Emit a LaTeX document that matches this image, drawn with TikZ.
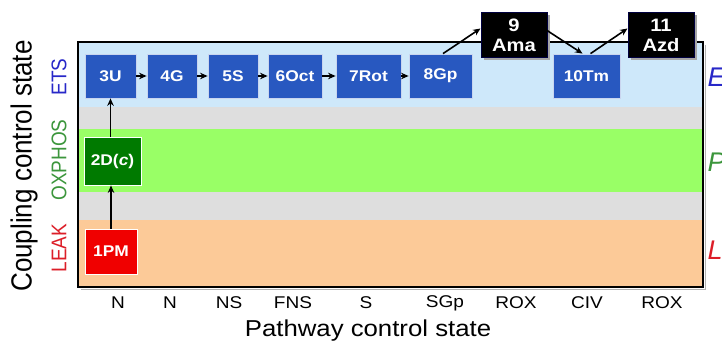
\documentclass[tikz,border=0pt]{standalone}
\usepackage{fontspec}
\usepackage{graphicx}
\setmainfont{Liberation Sans}
\usetikzlibrary{arrows.meta,shadows}
\definecolor{etsband}{RGB}{206,232,250}
\definecolor{dotband}{RGB}{222,222,222}
\definecolor{oxband}{RGB}{153,255,102}
\definecolor{leakband}{RGB}{252,202,152}
\definecolor{boxblue}{RGB}{40,88,192}
\definecolor{boxgreen}{RGB}{0,122,0}
\definecolor{boxred}{RGB}{240,0,0}
\definecolor{etstext}{RGB}{40,40,200}
\definecolor{oxtext}{RGB}{60,150,60}
\definecolor{leaktext}{RGB}{220,30,40}
\newcommand{\hs}[1]{\scalebox{1.12}[1]{#1}}
\newcommand{\vs}[1]{\scalebox{1}[1.12]{#1}}
\begin{document}
\begin{tikzpicture}[x=1pt,y=-1pt,
  statebox/.style={draw=white!75!boxblue, line width=0.8pt, fill=boxblue, text=white,
    font=\bfseries\fontsize{15.5}{17}\selectfont, minimum height=44pt, inner sep=0pt},
  inhbox/.style={draw=blue!25!black, line width=1pt, fill=black, text=white, align=center,
    font=\bfseries\fontsize{18}{22}\selectfont, minimum width=66pt, minimum height=45pt,
    inner sep=0pt, drop shadow={shadow xshift=2.5pt, shadow yshift=-2.5pt, fill=gray!70, opacity=1}},
  conn/.style={-{Stealth[length=7.5pt,width=6.5pt]}, line width=1.6pt, black},
  axlabel/.style={font=\fontsize{17}{19}\selectfont, anchor=center},
  sidelabel/.style={font=\fontsize{19}{21}\selectfont, rotate=90, anchor=center},
  rightlabel/.style={font=\itshape\fontsize{27}{29}\selectfont, anchor=west}]
\useasboundingbox (0,0) rectangle (722,347);
% bands
\fill[etsband] (79,43) rectangle (702,107);
\fill[dotband] (79,107) rectangle (702,129);
\fill[oxband] (79,129) rectangle (702,192);
\fill[dotband] (79,192) rectangle (702,220);
\fill[leakband] (79,220) rectangle (702,286);
% frame with shadow
\draw[gray!60, line width=1.5pt] (81,289.5) -- (705.5,289.5) -- (705.5,45);
\draw[black, line width=1.8pt] (78,42) rectangle (703,287);
% state boxes
\node[statebox, minimum width=51pt] (u3) at (110.5,76) {\hs{3U}};
\node[statebox, minimum width=50pt] (g4) at (172,76) {\hs{4G}};
\node[statebox, minimum width=50pt] (s5) at (233,76) {\hs{5S}};
\node[statebox, minimum width=54pt] (oct6) at (295,76) {\hs{6Oct}};
\node[statebox, minimum width=65pt] (rot7) at (368.5,76) {\hs{7Rot}};
\node[statebox, minimum width=63pt] (gp8) at (440.5,76) {\hs{8Gp}};
\node[statebox, minimum width=67pt] (tm10) at (586.5,76) {\hs{10Tm}};
\node[inhbox] (ama9) at (514,35.5) {\hs{9}\\[-2pt]\hs{Ama}};
\node[inhbox] (azd11) at (661,35.5) {\hs{11}\\[-2pt]\hs{Azd}};
\node[statebox, fill=boxgreen, draw=white, minimum width=57pt, minimum height=48pt] (dc2) at (112.5,161) {\hs{2D(\textit{c})}};
\node[statebox, fill=boxred, draw=white, minimum width=52pt, minimum height=45pt] (pm1) at (111,251.5) {\hs{1PM}};
% connectors
\draw[conn] (pm1.north) -- (pm1.north |- dc2.south);
\draw[conn] (u3.south |- dc2.north) -- (u3.south);
\draw[conn] (u3) -- (g4);
\draw[conn] (g4) -- (s5);
\draw[conn] (s5) -- (oct6);
\draw[conn] (oct6) -- (rot7);
\draw[conn] (rot7) -- (gp8);
\draw[conn] ([xshift=2.5pt]gp8.north) -- ([yshift=7pt]ama9.west);
\draw[conn] ([yshift=6pt,xshift=-2pt]ama9.east) -- ([xshift=-4pt]tm10.north);
\draw[conn] ([xshift=4pt]tm10.north) -- ([yshift=7pt]azd11.west);
% axis labels
\node[axlabel] (xl1) at (118,303) {\hs{N}};
\node[axlabel] (xl2) at (170,303) {\hs{N}};
\node[axlabel] (xl3) at (229,303) {\hs{NS}};
\node[axlabel] (xl4) at (293,303) {\hs{FNS}};
\node[axlabel] (xl5) at (366,303) {\hs{S}};
\node[axlabel] (xl6) at (445,303) {\hs{SGp}};
\node[axlabel] (xl7) at (516,303) {\hs{ROX}};
\node[axlabel] (xl8) at (587,303) {\hs{CIV}};
\node[axlabel] (xl9) at (662,303) {\hs{ROX}};
\node[font=\fontsize{23}{25}\selectfont] (xtitle) at (368,331) {\hs{Pathway control state}};
\node[font=\fontsize{26}{28}\selectfont, rotate=90] (ytitle) at (24,166) {\vs{Coupling control state}};
\node[sidelabel, text=etstext] (lets) at (59,77) {\vs{ETS}};
\node[sidelabel, text=oxtext] (lox) at (59,160) {\vs{OXPHOS}};
\node[sidelabel, text=leaktext] (lleak) at (59,248) {\vs{LEAK}};
\node[rightlabel, text=etstext] (rets) at (704,77) {E};
\node[rightlabel, text=oxtext] (rox) at (704,162) {P};
\node[rightlabel, text=leaktext] (rleak) at (704,250) {L};
\end{tikzpicture}
\end{document}
